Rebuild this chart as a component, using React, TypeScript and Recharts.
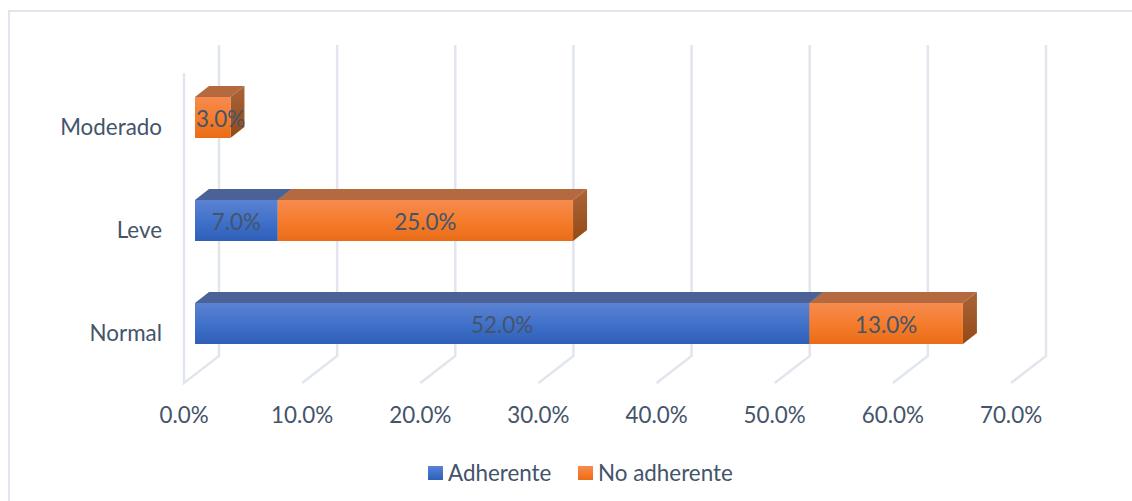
import React from "react";
import { BarChart, Bar, XAxis, YAxis, CartesianGrid, Legend, LabelList } from "recharts";

const categories = ["Moderado", "Leve", "Normal"];
const adherente = [0, 7, 52];
const noAdherente = [3, 25, 13];
const xTicks = [0, 10, 20, 30, 40, 50, 60, 70];

const rows = categories.map((name, i) => ({ name, adherente: adherente[i], noAdherente: noAdherente[i] }));

const FONT = "Lato, 'Open Sans', sans-serif";
const FONT_SIZE = 22.4;
const TEXT = "#44546a";
const GRID = "#e1e5ed";
const DX = 14;
const DY = 11;

function Box3D(props: any) {
  const { x, y, width, height, front, top, side } = props;
  if (!width || width <= 0) return null;
  const r = x + width;
  const b = y + height;
  return (
    <g>
      <polygon points={`${x},${y} ${x + DX},${y - DY} ${r + DX},${y - DY} ${r},${y}`} fill={top} />
      <polygon points={`${r},${y} ${r + DX},${y - DY} ${r + DX},${b - DY} ${r},${b}`} fill={side} />
      <rect x={x} y={y} width={width} height={height} fill={front} />
    </g>
  );
}

function BarLabel(props: any) {
  const { x, y, width, height, value } = props;
  if (!value) return null;
  const narrow = width < 50;
  return (
    <text
      x={narrow ? x + 1 : x + width / 2}
      y={y + height / 2 + 9.5}
      textAnchor={narrow ? "start" : "middle"}
      fontFamily={FONT}
      fontSize={FONT_SIZE}
      fill={TEXT}
    >
      {Number(value).toFixed(1)}%
    </text>
  );
}

function XTick(props: any) {
  const { x, y, payload } = props;
  return (
    <text x={x - 11} y={y} textAnchor="middle" fontFamily={FONT} fontSize={FONT_SIZE} fill={TEXT}>
      {Number(payload.value).toFixed(1)}%
    </text>
  );
}

function YTick(props: any) {
  const { x, y, payload } = props;
  return (
    <text x={x} y={y + 16.5} textAnchor="end" fontFamily={FONT} fontSize={FONT_SIZE} fill={TEXT}>
      {payload.value}
    </text>
  );
}

function GridLine(props: any) {
  const { x1, y2, index } = props;
  const floorY = y2 + 8;
  const startY = index === 0 ? `M${x1 - 11},73 L${x1 - 11},${floorY}` : `M${x1 - 11},${floorY}`;
  return (
    <path
      d={`${startY} L${x1 + 24},${floorY - 27} L${x1 + 24},45`}
      fill="none"
      stroke={GRID}
      strokeWidth={2.5}
    />
  );
}

function LegendBox() {
  const items = [
    { label: "Adherente", fill: "linear-gradient(#5b82d2,#3f70c9 55%,#2f5fb8)", left: 428, textLeft: 448 },
    { label: "No adherente", fill: "linear-gradient(#f68b50,#f57b2a 55%,#e96d18)", left: 578, textLeft: 598 },
  ];
  return (
    <div style={{ position: "relative", height: 30, width: 1132 }}>
      {items.map((it) => (
        <React.Fragment key={it.label}>
          <span style={{ position: "absolute", left: it.left, top: 6, width: 15, height: 14, background: it.fill }} />
          <span style={{ position: "absolute", left: it.textLeft, top: 1, fontFamily: FONT, fontSize: FONT_SIZE, lineHeight: "24px", color: TEXT, whiteSpace: "nowrap" }}>
            {it.label}
          </span>
        </React.Fragment>
      ))}
    </div>
  );
}

export default function App() {
  return (
    <div style={{ position: "absolute", left: 0, top: 0, width: 1132, height: 501, background: "#fff", overflow: "hidden" }}>
      <div style={{ position: "absolute", left: 8, top: 10, right: 0, height: 2, background: GRID }} />
      <div style={{ position: "absolute", left: 8, top: 10, bottom: 0, width: 2, background: GRID }} />
      <BarChart
        width={1132}
        height={501}
        data={rows}
        layout="vertical"
        barSize={41}
        margin={{ top: 66, right: 110, bottom: 96, left: 135 }}
        style={{ position: "absolute", left: 0, top: 0 }}
      >
        <defs>
          <linearGradient id="blueFront" x1="0" y1="0" x2="0" y2="1">
            <stop offset="0" stopColor="#5b82d2" />
            <stop offset="0.55" stopColor="#3f70c9" />
            <stop offset="1" stopColor="#2f5fb8" />
          </linearGradient>
          <linearGradient id="orangeFront" x1="0" y1="0" x2="0" y2="1">
            <stop offset="0" stopColor="#f68b50" />
            <stop offset="0.55" stopColor="#f57b2a" />
            <stop offset="1" stopColor="#e96d18" />
          </linearGradient>
          <linearGradient id="orangeSide" x1="0" y1="0" x2="0" y2="1">
            <stop offset="0" stopColor="#a9643a" />
            <stop offset="1" stopColor="#934a15" />
          </linearGradient>
          <linearGradient id="blueSide" x1="0" y1="0" x2="0" y2="1">
            <stop offset="0" stopColor="#4a6296" />
            <stop offset="1" stopColor="#2c4a85" />
          </linearGradient>
        </defs>
        <CartesianGrid horizontal={false} vertical={(p: any) => <GridLine key={p.key} {...p} />} />
        <XAxis
          type="number"
          domain={[0, 70]}
          ticks={xTicks}
          interval={0}
          height={30}
          axisLine={false}
          tickLine={false}
          tickMargin={0}
          tick={(p: any) => <XTick {...p} y={423} />}
        />
        <YAxis
          type="category"
          dataKey="name"
          width={60}
          axisLine={false}
          tickLine={false}
          tick={(p: any) => <YTick {...p} x={162} y={p.y + 1} />}
        />
        <Bar
          dataKey="adherente"
          stackId="a"
          isAnimationActive={false}
          fill="url(#blueFront)"
          shape={(p: any) => <Box3D {...p} front="url(#blueFront)" top="#4a6296" side="url(#blueSide)" />}
        >
          <LabelList dataKey="adherente" content={(p: any) => <BarLabel {...p} />} />
        </Bar>
        <Bar
          dataKey="noAdherente"
          stackId="a"
          isAnimationActive={false}
          fill="url(#orangeFront)"
          shape={(p: any) => <Box3D {...p} front="url(#orangeFront)" top="#b5693f" side="url(#orangeSide)" />}
        >
          <LabelList dataKey="noAdherente" content={(p: any) => <BarLabel {...p} />} />
        </Bar>
        <Legend
          layout="horizontal"
          verticalAlign="middle"
          wrapperStyle={{ left: 0, top: 460, width: 1132, height: 30 }}
          content={() => <LegendBox />}
        />
      </BarChart>
    </div>
  );
}
